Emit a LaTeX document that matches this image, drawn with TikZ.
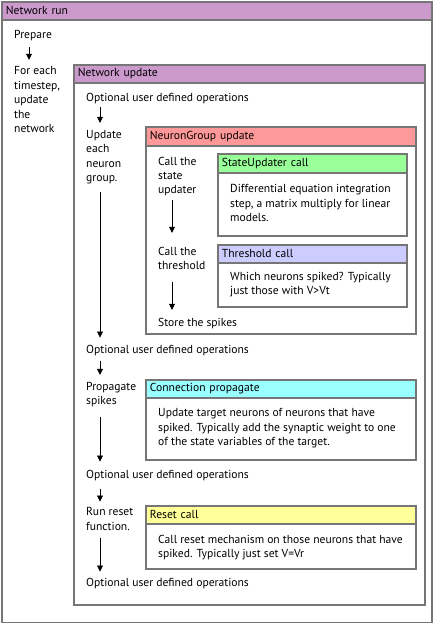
\documentclass[tikz,border=0pt]{standalone}
\usepackage{fontspec}
\setmainfont{PT Sans}
\usetikzlibrary{positioning,arrows.meta}
\definecolor{edgegray}{RGB}{118,118,118}
\definecolor{runpurple}{RGB}{204,153,204}
\definecolor{ngred}{RGB}{255,153,153}
\definecolor{sugreen}{RGB}{153,255,153}
\definecolor{thrblue}{RGB}{204,204,255}
\definecolor{concyan}{RGB}{153,255,255}
\definecolor{rstyellow}{RGB}{255,255,153}
\newcommand{\txtfont}{\fontsize{11.6}{14.4}\selectfont}
\newcommand{\stack}[1]{\begin{tabular}[t]{@{}l@{}}#1\end{tabular}}

\begin{document}
\begin{tikzpicture}[x=1pt,y=-1pt,
    frame/.style={draw=edgegray, line width=1.8pt, anchor=north west, inner sep=0pt},
    hdr/.style={draw=edgegray, line width=1.8pt, anchor=north west, inner xsep=4pt, inner ysep=0pt, align=left, font=\txtfont},
    txt/.style={anchor=base west, inner sep=0pt, font=\txtfont},
    flow/.style={-{Triangle[length=6pt,width=6pt]}, line width=0.7pt}]
    \useasboundingbox (0,0) rectangle (434,623);

    % Network run
    \node[frame, minimum width=430pt, minimum height=621pt] (run) at (1,1) {};
    \node[hdr, fill=runpurple, minimum height=18pt, text width=422pt] (runhead) at (1,1) {Network run};
    \node[txt] (prep) at (14,39) {\stack{Prepare}};
    \node[txt] (foreach) at (14,75) {\stack{For each\\timestep,\\update\\the\\network}};

    % Network update
    \node[frame, minimum width=351pt, minimum height=540pt] (upd) at (73,64) {};
    \node[hdr, fill=runpurple, minimum height=18pt, text width=343pt] (updhead) at (73,64) {Network update};
    \node[txt] (opt1) at (86,101.7) {\stack{Optional user defined operations}};
    \node[txt] (updng) at (86,138.5) {\stack{Update\\each\\neuron\\group.}};

    % NeuronGroup update
    \node[frame, minimum width=270pt, minimum height=207pt] (ngu) at (145,126) {};
    \node[hdr, fill=ngred, minimum height=19pt, text width=262pt] (nguhead) at (145,126) {NeuronGroup update};
    \node[txt] (callsu) at (158,165) {\stack{Call the\\state\\updater}};
    \node[frame, minimum width=189pt, minimum height=82pt] (su) at (217,153) {};
    \node[hdr, fill=sugreen, minimum height=19pt, text width=181pt] (suhead) at (217,153) {StateUpdater call};
    \node[txt] (sutxt) at (230,192.7) {\stack{Differential equation integration\\step, a matrix multiply for linear\\models.}};
    \node[txt] (callthr) at (158,255) {\stack{Call the\\threshold}};
    \node[frame, minimum width=189pt, minimum height=62pt] (thr) at (217,244) {};
    \node[hdr, fill=thrblue, minimum height=18pt, text width=181pt] (thrhead) at (217,244) {Threshold call};
    \node[txt] (thrtxt) at (230,280) {\stack{Which neurons spiked? Typically\\just those with V>Vt}};
    \node[txt] (store) at (158,326) {\stack{Store the spikes}};

    % Connection propagate
    \node[txt] (opt2) at (86,353.3) {\stack{Optional user defined operations}};
    \node[txt] (prop) at (86,390) {\stack{Propagate\\spikes}};
    \node[frame, minimum width=270pt, minimum height=80pt] (con) at (145,379) {};
    \node[hdr, fill=concyan, minimum height=18pt, text width=262pt] (conhead) at (145,379) {Connection propagate};
    \node[txt] (contxt) at (158,416.7) {\stack{Update target neurons of neurons that have\\spiked. Typically add the synaptic weight to one\\of the state variables of the target.}};

    % Reset call
    \node[txt] (opt3) at (86,478.3) {\stack{Optional user defined operations}};
    \node[txt] (runrst) at (86,515.7) {\stack{Run reset\\function.}};
    \node[frame, minimum width=270pt, minimum height=63pt] (rst) at (145,505) {};
    \node[hdr, fill=rstyellow, minimum height=18pt, text width=262pt] (rsthead) at (145,505) {Reset call};
    \node[txt] (rsttxt) at (158,543.3) {\stack{Call reset mechanism on those neurons that have\\spiked. Typically just set V=Vr}};
    \node[txt] (opt4) at (86,586.7) {\stack{Optional user defined operations}};

    % flow arrows
    \draw[flow, shorten <=3.7pt, shorten >=4.9pt] ([xshift=15pt]prep.south west) -- ([xshift=15pt]foreach.north west);
    \draw[flow, shorten <=1pt, shorten >=5.4pt] ([xshift=14pt]opt1.south west) -- ([xshift=14pt]updng.north west);
    \draw[flow, shorten <=5.7pt, shorten >=5.5pt] ([xshift=14pt]updng.south west) -- ([xshift=14pt]opt2.north west);
    \draw[flow, shorten <=1.7pt, shorten >=11.9pt] ([xshift=14pt]callsu.south west) -- ([xshift=14pt]callthr.north west);
    \draw[flow, shorten <=7.9pt, shorten >=5.9pt] ([xshift=14pt]callthr.south west) -- ([xshift=14pt]store.north west);
    \draw[flow, shorten <=3.1pt, shorten >=4.9pt] ([xshift=14pt]opt2.south west) -- ([xshift=14pt]prop.north west);
    \draw[flow, shorten <=8.2pt, shorten >=6.5pt] ([xshift=14pt]prop.south west) -- ([xshift=14pt]opt3.north west);
    \draw[flow, shorten <=5.7pt, shorten >=3.9pt] ([xshift=14pt]opt3.south west) -- ([xshift=14pt]runrst.north west);
    \draw[flow, shorten <=2.9pt, shorten >=4.9pt] ([xshift=14pt]runrst.south west) -- ([xshift=14pt]opt4.north west);
\end{tikzpicture}
\end{document}
